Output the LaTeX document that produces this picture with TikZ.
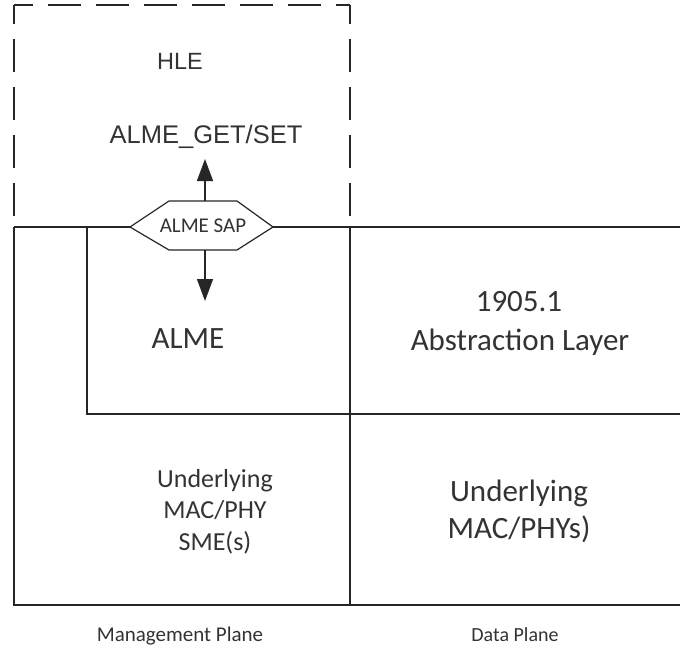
\documentclass[tikz,border=0pt]{standalone}
\usepackage{fontspec}
\newfontfamily\arialf{Liberation Sans}
\newfontfamily\calibrif{Carlito}
\usetikzlibrary{arrows.meta}
\tikzset{
  ln/.style={line width=1.4pt, draw=black!85},
  dashln/.style={line width=1.4pt, draw=black!85, dash pattern=on 33pt off 15pt, dash phase=14pt},
  txt/.style={anchor=base, inner sep=0pt, text=black!80},
  sap/.style={line width=1.2pt, draw=black!85, fill=white},
  arr/.style={line width=1.4pt, draw=black!85, -{Triangle[length=22pt,width=16pt]}}
}
\begin{document}
\begin{tikzpicture}[x=1pt,y=-1pt]
\useasboundingbox (0,0) rectangle (680,646);
% coordinates
\coordinate (dTL) at (14,5);
\coordinate (dTR) at (350,5);
\coordinate (L1) at (14,227);
\coordinate (M1) at (350,227);
\coordinate (R1) at (680,227);
\coordinate (I1) at (87,227);
\coordinate (I2) at (87,414);
\coordinate (M2) at (350,414);
\coordinate (R2) at (680,414);
\coordinate (L3) at (14,605);
\coordinate (M3) at (350,605);
\coordinate (R3) at (680,605);
% dashed HLE box
\draw[dashln] (dTL) -- (dTR);
\draw[dashln] (dTL) -- (L1);
\draw[dashln] (dTR) -- (M1);
% solid frame
\draw[ln] (L1) -- (R1);
\draw[ln] (L1) -- (L3) -- (R3);
\draw[ln] (I1) -- (I2) -- (R2);
\draw[ln] (M1) -- (M3);
% SAP hexagon
\coordinate (hL) at (130,227);
\coordinate (hTL) at (169,201);
\coordinate (hTR) at (237,201);
\coordinate (hR) at (273,227);
\coordinate (hBR) at (237,250);
\coordinate (hBL) at (169,250);
\draw[sap] (hL) -- (hTL) -- (hTR) -- (hR) -- (hBR) -- (hBL) -- cycle;
\node[txt, font=\calibrif\fontsize{21}{25}\selectfont] (sap) at (203,232) {ALME SAP};
% arrows
\coordinate (aTop0) at (205,201);
\coordinate (aTop1) at (205,159);
\coordinate (aBot0) at (205,250);
\coordinate (aBot1) at (205,301);
\draw[arr] (aTop0) -- (aTop1);
\draw[arr] (aBot0) -- (aBot1);
% texts
\node[txt, font=\arialf\fontsize{23.5}{28}\selectfont] (hle) at (180,69) {HLE};
\node[txt, font=\arialf\fontsize{25.5}{30}\selectfont] (get) at (206,143) {ALME\_GET/SET};
\node[txt, font=\calibrif\fontsize{31}{37}\selectfont] (alme) at (188,348) {ALME};
\node[txt, font=\calibrif\fontsize{31}{37}\selectfont] (al1) at (519,311) {1905.1};
\node[txt, font=\calibrif\fontsize{31}{37}\selectfont] (al2) at (520,350) {Abstraction Layer};
\node[txt, font=\calibrif\fontsize{26}{31}\selectfont] (sm1) at (215,487) {Underlying};
\node[txt, font=\calibrif\fontsize{26}{31}\selectfont] (sm2) at (215,518.5) {MAC/PHY};
\node[txt, font=\calibrif\fontsize{26}{31}\selectfont] (sm3) at (215,550) {SME(s)};
\node[txt, font=\calibrif\fontsize{31}{37}\selectfont] (dp1) at (519,501) {Underlying};
\node[txt, font=\calibrif\fontsize{31}{37}\selectfont] (dp2) at (519,538) {MAC/PHYs)};
\node[txt, font=\calibrif\fontsize{21}{25}\selectfont] (mp) at (180,641) {Management Plane};
\node[txt, font=\calibrif\fontsize{20}{24}\selectfont] (dpl) at (515,641) {Data Plane};
\end{tikzpicture}
\end{document}
